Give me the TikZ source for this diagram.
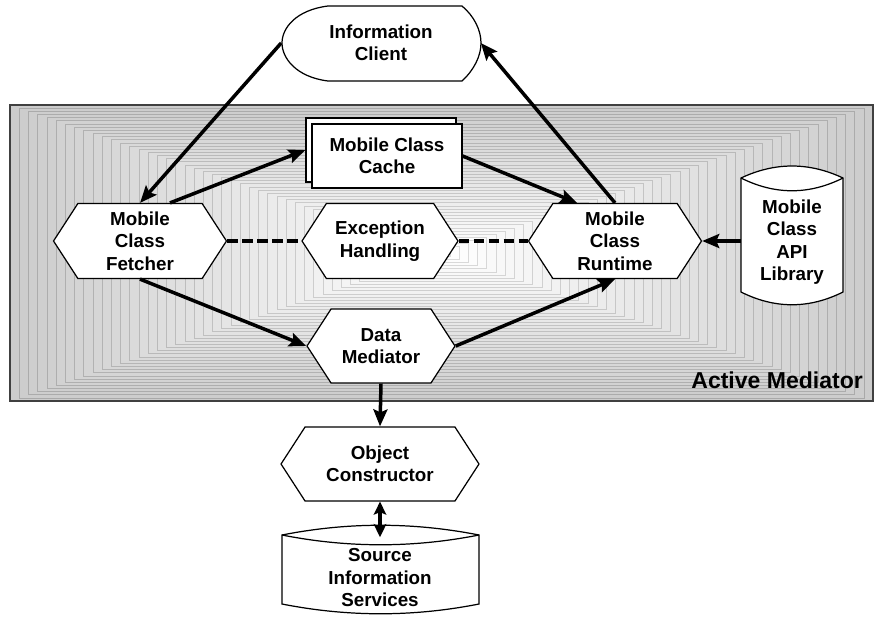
\documentclass[tikz,border=0pt]{standalone}
\usepackage{fontspec}
\setmainfont{Liberation Sans}
\usepackage{tikz}
\usetikzlibrary{positioning,shapes.symbols,shadows,arrows.meta,calc}
\newcommand{\lbl}{\bfseries\fontsize{10.7}{12.8}\selectfont}

\begin{document}
\begin{tikzpicture}[x=0.02cm,y=-0.02cm,
    hexa/.style={signal, signal to=east and west, signal pointer angle=114,
        draw, fill=white, line width=0.7pt, inner sep=0pt, align=center, font=\lbl},
    plain/.style={inner sep=0pt, align=center, font=\lbl},
    arr/.style={line width=0.07cm, -{Stealth[length=0.34cm,width=0.28cm,inset=0.06cm]}},
    both/.style={line width=0.07cm, {Stealth[length=0.26cm,width=0.25cm,inset=0.05cm]}-{Stealth[length=0.26cm,width=0.25cm,inset=0.05cm]}},
    link/.style={line width=0.065cm, dash pattern=on 0.21cm off 0.09cm}]
        \useasboundingbox (0,0) rectangle (875,623);
        % active mediator background
        \foreach \i in {0,...,46}{
            \pgfmathsetmacro{\shade}{20*(1-\i/46)}
            \pgfmathsetmacro{\edge}{20*(1-\i/46)+14}
            \draw[black!\edge, line width=0.3pt, fill=black!\shade]
                (10+9.2*\i,105+3.15*\i) rectangle (873-9.2*\i,401-3.15*\i);
        }
        \draw[black!75, line width=0.6pt] (10,105) rectangle (873,401);
        \node[anchor=base east, font=\bfseries\fontsize{13.1}{15}\selectfont] (med) at (869,388) {Active Mediator};
        % information client
        \draw[line width=0.7pt] (328,6) -- (462,6) .. controls (474,16) and (481,30) .. (481,43)
            .. controls (481,56) and (474,70) .. (462,81) -- (328,81)
            .. controls (296,77) and (282,58) .. (282,43) .. controls (282,28) and (296,10) .. (328,6);
        \node[plain, minimum width=3.98cm, minimum height=1.5cm] (client) at (381,43) {Information\\Client};
        % api library
        \draw[line width=0.7pt, fill=white] (741,178) .. controls (775,162) and (809,162) .. (843,178)
            -- (843,292) .. controls (809,309) and (775,309) .. (741,292) -- cycle;
        \draw[line width=0.7pt] (741,178) .. controls (775,195) and (809,195) .. (843,178);
        \node[plain, minimum width=2.04cm, minimum height=2.8cm] (api) at (792,242) {Mobile\\Class\\API\\Library};
        % source services
        \draw[line width=0.7pt] (282,535) .. controls (348,522) and (413,522) .. (479,535)
            -- (479,604) .. controls (413,617) and (348,617) .. (282,604) -- cycle;
        \draw[line width=0.7pt] (282,535) .. controls (348,548) and (413,548) .. (479,535);
        \node[plain, minimum width=3.94cm, minimum height=1.78cm] (src) at (380,570) {};
        \node[plain] (srctext) at (380,578) {Source\\Information\\Services};
        % cache
        \node[draw, fill=white, line width=0.7pt, align=center, font=\lbl,
            minimum width=3cm, minimum height=1.28cm, inner sep=0pt,
            copy shadow={shadow xshift=-0.12cm, shadow yshift=0.12cm, fill=white, draw=black, line width=0.7pt, opacity=1}]
            (cache) at (387,156) {Mobile Class\\Cache};
        % hexagons
        \node[hexa, minimum width=3.46cm, minimum height=1.5cm] (fetcher) at (140,241) {Mobile\\Class\\Fetcher};
        \node[hexa, minimum width=3.12cm, minimum height=1.5cm] (exc) at (380,241) {Exception\\Handling};
        \node[hexa, minimum width=3.46cm, minimum height=1.5cm] (runtime) at (615,241) {Mobile\\Class\\Runtime};
        \node[hexa, minimum width=2.96cm, minimum height=1.48cm] (data) at (381,346) {Data\\Mediator};
        \node[hexa, minimum width=3.96cm, minimum height=1.48cm] (ctor) at (380,464) {Object\\Constructor};
        % connectors
        \draw[arr] (client.west) -- (fetcher.north);
        \draw[arr] ([xshift=0.6cm]fetcher.north) -- ([xshift=-0.12cm,yshift=0.12cm]cache.west);
        \draw[arr] (cache.east) -- ([xshift=-0.76cm]runtime.north);
        \draw[arr] (runtime.north) -- (client.east);
        \draw[arr] (api.west |- runtime.east) -- (runtime.east);
        \draw[arr] (fetcher.south) -- (data.west);
        \draw[arr] (data.east) -- (runtime.south);
        \draw[arr] (data.south) -- (ctor.north);
        \draw[both] (ctor.south) -- ([yshift=-0.24cm]src.north);
        \draw[link] (fetcher.east) -- (exc.west);
        \draw[link] (exc.east) -- (runtime.west);
    \end{tikzpicture}
\end{document}
